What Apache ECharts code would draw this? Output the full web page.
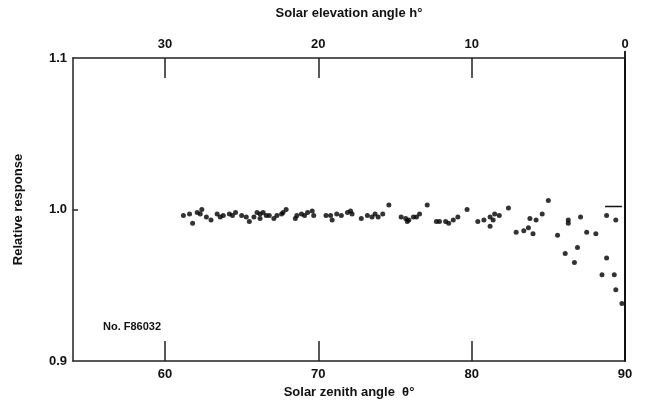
<!DOCTYPE html>
<html>
<head>
<meta charset="utf-8">
<script src="https://cdn.jsdelivr.net/npm/echarts@6/dist/echarts.min.js"></script>
<style>
  html, body { margin: 0; padding: 0; background: #fff; }
  #chart { width: 651px; height: 414px; }
</style>
</head>
<body>
<div id="chart"></div>
<script>
// solar zenith angle (deg) and relative response
var zenith = [
    61.2, 61.6, 61.8, 62.1, 62.4, 62.3, 62.7, 63.0, 63.4, 63.6, 63.8, 64.2, 64.4, 64.6, 65.0, 65.3, 65.5, 65.8, 66.0,
    66.2, 66.2, 66.4, 66.6, 66.8, 67.1, 67.3, 67.6, 67.7, 67.9, 68.5, 68.6, 68.9, 69.1, 69.3, 69.6, 69.7,
    70.5, 70.8, 70.9, 71.2, 71.5, 71.9, 72.1, 72.2, 72.8,
    73.2, 73.5, 73.7, 73.9, 74.2, 74.6, 75.4, 75.7, 75.8, 75.9, 76.2, 76.4, 76.6, 77.1,
    77.7, 77.9, 78.3, 78.5, 78.8, 79.1, 79.7,
    80.4, 80.8, 81.2, 81.2, 81.4, 81.5, 81.8, 82.4, 82.9, 83.4, 83.7, 83.8, 84.0, 84.2, 84.6, 85.0, 85.6,
    86.1, 86.3, 86.3, 86.7, 86.9, 87.1, 87.5, 88.1, 88.5, 88.8, 88.8, 89.3, 89.4, 89.4, 89.8
];
var response = [
    0.996, 0.997, 0.991, 0.998, 1.000, 0.997, 0.995, 0.993, 0.997, 0.995, 0.996, 0.997, 0.996, 0.998, 0.996, 0.995, 0.992, 0.995, 0.998,
    0.997, 0.994, 0.998, 0.996, 0.996, 0.994, 0.996, 0.997, 0.998, 1.000, 0.994, 0.996, 0.997, 0.996, 0.998, 0.999, 0.996,
    0.996, 0.996, 0.993, 0.997, 0.996, 0.998, 0.999, 0.997, 0.994,
    0.996, 0.995, 0.997, 0.995, 0.997, 1.003, 0.995, 0.994, 0.992, 0.993, 0.995, 0.995, 0.997, 1.003,
    0.992, 0.992, 0.992, 0.991, 0.993, 0.995, 1.000,
    0.992, 0.993, 0.995, 0.989, 0.993, 0.997, 0.996, 1.001, 0.985, 0.986, 0.988, 0.994, 0.984, 0.993, 0.997, 1.006, 0.983,
    0.971, 0.993, 0.991, 0.965, 0.975, 0.995, 0.985, 0.984, 0.957, 0.996, 0.968, 0.957, 0.947, 0.993, 0.938
];
// short reference mark near the right edge
var markZenith = [88.7, 89.8];
var markResponse = [1.002, 1.002];

var zenithLabels = [60, 70, 80, 90];
var zenithTicks = [60, 70, 80];
var elevationLabels = [0, 10, 20, 30];
var elevationTicks = [10, 20, 30];

var font = 'Liberation Sans';
var chart = echarts.init(document.getElementById('chart'));

var points = zenith.map(function (z, i) { return [z, response[i]]; });
var mark = markZenith.map(function (z, i) { return [z, markResponse[i]]; });

var option = {
    backgroundColor: '#fff',
    animation: false,
    grid: { left: 73, right: 26, top: 58, bottom: 53 },
    graphic: [{
        type: 'text',
        left: 103,
        top: 321,
        style: { text: 'No. F86032', font: 'bold 11px ' + font, fill: '#111' }
    }],
    xAxis: [
        {
            type: 'value',
            position: 'bottom',
            min: 54,
            max: 90,
            name: 'Solar zenith angle  θ°',
            nameLocation: 'middle',
            nameGap: 24,
            nameTextStyle: { color: '#111', fontFamily: font, fontWeight: 'bold', fontSize: 13 },
            axisLine: { onZero: false, lineStyle: { color: '#222', width: 1.5 } },
            axisTick: { show: true, inside: true, length: 20, customValues: zenithTicks, lineStyle: { color: '#222', width: 1.5 } },
            axisLabel: { customValues: zenithLabels, margin: 7, color: '#111', fontFamily: font, fontWeight: 'bold', fontSize: 13 },
            splitLine: { show: false }
        },
        {
            type: 'value',
            position: 'top',
            min: 0,
            max: 36,
            inverse: true,
            name: 'Solar elevation angle h°',
            nameLocation: 'middle',
            nameGap: 38,
            nameTextStyle: { color: '#111', fontFamily: font, fontWeight: 'bold', fontSize: 13 },
            axisLine: { onZero: false, lineStyle: { color: '#222', width: 1.5 } },
            axisTick: { show: true, inside: true, length: 20, customValues: elevationTicks, lineStyle: { color: '#222', width: 1.5 } },
            axisLabel: { customValues: elevationLabels, margin: 7, color: '#111', fontFamily: font, fontWeight: 'bold', fontSize: 13 },
            splitLine: { show: false }
        },
        {
            // short outward tick at h = 0
            type: 'value',
            position: 'top',
            min: 0,
            max: 36,
            inverse: true,
            axisLine: { show: false, onZero: false },
            axisTick: { show: true, inside: false, length: 7, customValues: [0], lineStyle: { color: '#222', width: 2 } },
            axisLabel: { show: false },
            splitLine: { show: false }
        }
    ],
    yAxis: [
        {
            type: 'value',
            position: 'left',
            min: 0.9,
            max: 1.1,
            interval: 0.1,
            name: 'Relative response',
            nameLocation: 'middle',
            nameRotate: 90,
            nameGap: 48,
            nameTextStyle: { color: '#111', fontFamily: font, fontWeight: 'bold', fontSize: 13 },
            axisLine: { onZero: false, lineStyle: { color: '#222', width: 1.5 } },
            axisTick: { show: true, inside: true, length: 5, customValues: [1.0], lineStyle: { color: '#222', width: 1.5 } },
            axisLabel: {
                margin: 6, color: '#111', fontFamily: font, fontWeight: 'bold', fontSize: 13,
                formatter: function (v) { return v.toFixed(1); }
            },
            splitLine: { show: false }
        },
        {
            type: 'value',
            position: 'right',
            min: 0.9,
            max: 1.1,
            axisLine: { show: true, onZero: false, lineStyle: { color: '#111', width: 2 } },
            axisTick: { show: false },
            axisLabel: { show: false },
            splitLine: { show: false }
        }
    ],
    series: [
        {
            type: 'scatter',
            data: points,
            symbol: 'circle',
            symbolSize: 5,
            itemStyle: { color: '#000' }
        },
        {
            type: 'line',
            data: mark,
            symbol: 'none',
            lineStyle: { color: '#111', width: 1.5 }
        }
    ]
};
chart.setOption(option);
</script>
</body>
</html>
